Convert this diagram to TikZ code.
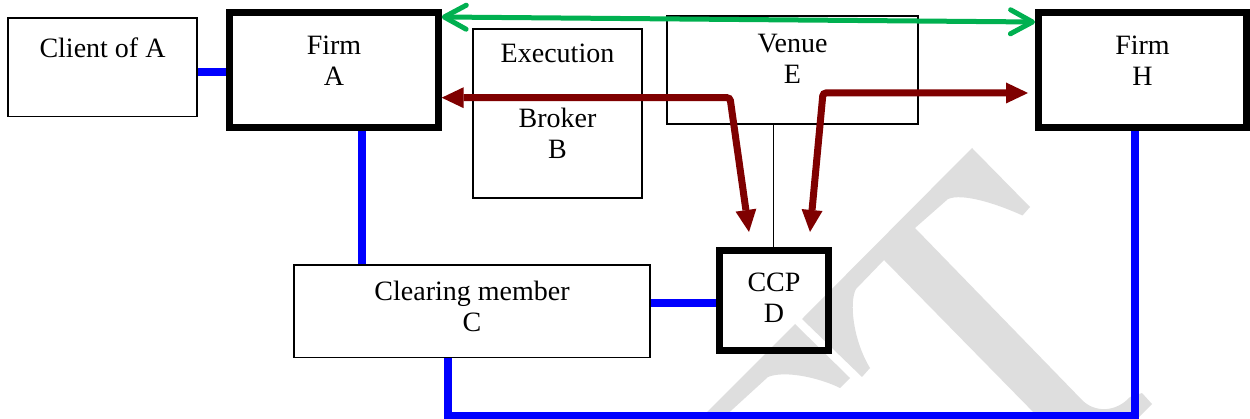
\documentclass[tikz,border=0pt]{standalone}
\usepackage{fontspec}
\setmainfont{Liberation Serif}
\usetikzlibrary{arrows.meta,calc}
\definecolor{wm}{HTML}{DEDEDE}
\definecolor{bl}{HTML}{0000FF}
\definecolor{gr}{HTML}{00B050}
\definecolor{rd}{HTML}{7F0000}
\tikzset{
  thinbox/.style={draw=black, line width=1.8pt, inner sep=0pt},
  thickbox/.style={draw=black, line width=7pt, inner sep=0pt},
  lbl/.style={inner sep=0pt, align=center, anchor=north, font=\fontsize{28}{31}\selectfont},
  blueline/.style={draw=bl, line width=8pt},
  thinline/.style={draw=black, line width=1.6pt},
  greenarrow/.style={draw=gr, line width=5pt, line cap=round,
    {Straight Barb[length=22pt,width=24pt,round]}-{Straight Barb[length=22pt,width=24pt,round]}},
  redarrow/.style={draw=rd, line width=7pt, rounded corners=3pt,
    {Triangle[length=22pt,width=21pt,line width=0pt]}-{Triangle[length=22pt,width=21pt,line width=0pt]}}
}
\begin{document}
\begin{tikzpicture}[x=1pt,y=-1pt]
\useasboundingbox (0,0) rectangle (1250,419);
% watermark
\fill[wm] (802,319) -- (972,148) -- (1030,207) -- (1022.5,215.5)
  .. controls (995,203) and (962,193) .. (948,199) -- (915,228) -- (1083,401)
  .. controls (1095,412) and (1115,413) .. (1130,397) -- (1142,393) -- (1152,404)
  -- (1137,419) -- (1040,419) -- (884,260) -- (856,289)
  .. controls (849,302) and (853,340) .. (870,368) -- (862,377) -- cycle;
\fill[wm] (700,419) -- (795,324) -- (850,378) -- (840,388)
  .. controls (820,378) and (785,370) .. (768,377) -- (722,419) -- cycle;
% boxes
\node[thinbox, minimum width=188.7pt, minimum height=98.2pt] (client) at (102.65,67.4) {};
\node[thickbox, minimum width=208.6pt, minimum height=115.5pt] (firmA) at (333.9,70.25) {};
\node[thinbox, minimum width=169pt, minimum height=169pt] (exec) at (557.5,113.5) {};
\node[thinbox, minimum width=251pt, minimum height=108pt] (venue) at (792.5,70) {};
\node[thickbox, minimum width=208pt, minimum height=115.5pt] (firmH) at (1142.5,70.25) {};
\node[thinbox, minimum width=356.2pt, minimum height=92.3pt] (clear) at (472.1,311.35) {};
\node[thickbox, minimum width=109pt, minimum height=99.7pt] (ccp) at (773.7,300.6) {};
% texts
\node[lbl] (tClient) at (102.5,38) {Client of A};
\node[lbl] (tFirmA) at (334,36) {Firm\\A};
\node[lbl] (tExec) at (557.5,44) {Execution};
\node[lbl] (tBroker) at (557.5,108) {Broker\\B};
\node[lbl] (tVenue) at (792.5,33.5) {Venue\\E};
\node[lbl] (tFirmH) at (1142.5,36) {Firm\\H};
\node[lbl] (tClear) at (472,281) {Clearing member\\C};
\node[lbl] (tCCP) at (774,273) {CCP\\D};
% helper coordinates
\coordinate (yCA) at (0,72.5);
\coordinate (xAC) at (362.3,0);
\coordinate (yCD) at (0,303.4);
\coordinate (xC) at (448.3,0);
\coordinate (yBot) at (0,415.5);
\coordinate (xH) at (1134.5,0);
\coordinate (xE) at (773.3,0);
\coordinate (rL) at (730,97.7);
\coordinate (rR) at (823,93);
\coordinate (dL) at ($(ccp.north)+(-24.7,-15.3)$);
\coordinate (dR) at ($(ccp.north)+(36.3,-15.3)$);
\coordinate (hTip) at ($(firmH.west |- rR)+(-7,0)$);
% blue connectors
\draw[blueline] (client.east |- yCA) -- (firmA.west |- yCA);
\draw[blueline] (firmA.south -| xAC) -- (clear.north -| xAC);
\draw[blueline] (clear.east |- yCD) -- (ccp.west |- yCD);
\draw[blueline] (clear.south -| xC) -- (xC |- yBot) -- (xH |- yBot) -- (firmH.south -| xH);
% thin line venue - ccp
\draw[thinline] (venue.south -| xE) -- (ccp.north -| xE);
% green arrow
\draw[greenarrow] ([yshift=-8pt]firmA.north east) -- ([yshift=-13pt]firmH.north west);
% red arrows
\draw[redarrow] (firmA.east |- rL) -- (rL) -- (dL);
\draw[redarrow] (hTip) -- (rR) -- (dR);
\end{tikzpicture}
\end{document}
